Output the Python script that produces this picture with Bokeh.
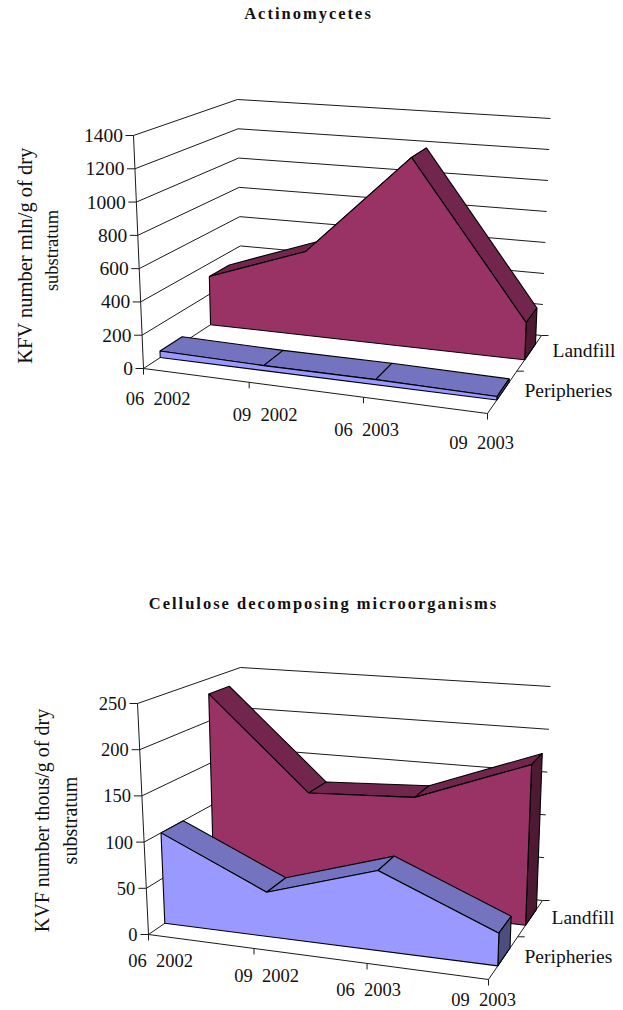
import numpy as np
from bokeh.core.properties import value
from bokeh.embed import file_html
from bokeh.layouts import column
from bokeh.models import InlineStyleSheet
from bokeh.plotting import figure
from bokeh.resources import INLINE

categories = ["06\u00a0\u00a02002", "09\u00a0\u00a02002", "06\u00a0\u00a02003", "09\u00a0\u00a02003"]
series_names = ["Peripheries", "Landfill"]

actino_title = "Actinomycetes"
actino_ylabel = ["KFV number mln/g of dry", "substratum"]
actino_ticks = [0, 200, 400, 600, 800, 1000, 1200, 1400]
actino_peripheries = [40, 30, 30, 20]
actino_landfill = [315, 540, 1195, 230]

cellulose_title = "Cellulose decomposing microorganisms"
cellulose_ylabel = ["KVF number thous/g of dry", "substratum"]
cellulose_ticks = [0, 50, 100, 150, 200, 250]
cellulose_peripheries = [100, 48, 85, 34]
cellulose_landfill = [232, 125, 131, 179]

FONT = value("Liberation Serif")
INK = "#1a1a1a"
FILLS = {
    "Peripheries": ("#9999ff", "#7373bf", "#4d4d80"),
    "Landfill": ("#993366", "#73264d", "#4d1933"),
}
# Depth bands occupied by each series inside the unit floor.
BANDS = {"Peripheries": (0.15, 0.36), "Landfill": (0.65, 0.87)}


def homography(quad):
    """Map the unit square (u, d) on to a pixel quadrilateral FL, FR, BR, BL."""
    src = [(0, 0), (1, 0), (1, 1), (0, 1)]
    a, b = [], []
    for (u, d), (x, y) in zip(src, quad):
        a.append([u, d, 1, 0, 0, 0, -u * x, -d * x])
        a.append([0, 0, 0, u, d, 1, -u * y, -d * y])
        b += [x, y]
    h = np.linalg.solve(np.array(a, float), np.array(b, float))
    return np.append(h, 1).reshape(3, 3)


class Box:
    def __init__(self, floor, ceiling, vmax):
        self.floor = homography(floor)
        self.ceiling = homography(ceiling)
        self.vmax = vmax

    def __call__(self, u, d, v):
        q = np.array([u, d, 1.0])
        f = self.floor @ q
        c = self.ceiling @ q
        f, c = f[:2] / f[2], c[:2] / c[2]
        return tuple(f + (c - f) * (v / self.vmax))


def band_figure(y0, y1, css=None):
    """A full-width figure whose data coordinates run with the page's pixels."""
    fig = figure(width=623, height=y1 - y0, x_range=(0, 623), y_range=(y1, y0),
                 output_backend="svg", toolbar_location=None, min_border=0,
                 outline_line_color=None)
    fig.axis.visible = False
    fig.grid.visible = False
    if css:
        fig.stylesheets = [InlineStyleSheet(css=css)]
    return fig


def seg(fig, a, b, color=INK, width=1.0):
    fig.line([a[0], b[0]], [a[1], b[1]], line_color=color, line_width=width)


def face(fig, points, fill):
    xs, ys = zip(*points)
    fig.patch(list(xs), list(ys), fill_color=fill, line_color="#000000", line_width=1.1)


def label(fig, x, y, text, size=18.5, align="center", angle=0.0, bold=False):
    fig.text([x], [y], text=[text], text_font=FONT, text_font_size=f"{size}px",
             text_align=align, text_baseline="middle", angle=angle,
             text_color="#111111", text_font_style="bold" if bold else "normal")


def draw_series(fig, box, name, values):
    front, top, side = FILLS[name]
    d0, d1 = BANDS[name]
    us = np.linspace(0, 1, len(values))
    for i in range(len(values) - 1):
        face(fig, [box(us[i], d0, values[i]), box(us[i + 1], d0, values[i + 1]),
                   box(us[i + 1], d1, values[i + 1]), box(us[i], d1, values[i])], top)
    face(fig, [box(1, d0, 0), box(1, d1, 0), box(1, d1, values[-1]), box(1, d0, values[-1])], side)
    outline = [box(u, d0, v) for u, v in zip(us, values)]
    face(fig, outline + [box(1, d0, 0), box(0, d0, 0)], front)


def draw_chart(fig, box, ticks, peripheries, landfill, ylabel, ylabel_x, ylabel_y, ylabel_size,
               cat_xy, series_xy, tick_size, tick_gap):
    # walls and floor
    for t in ticks:
        seg(fig, box(0, 1, t), box(1, 1, t))
        seg(fig, box(0, 0, t), box(0, 1, t))
        a = box(0, 0, t)
        seg(fig, a, (a[0] - 8, a[1]))
    seg(fig, box(0, 0, 0), box(0, 0, ticks[-1]))
    seg(fig, box(0, 0, 0), box(1, 0, 0))
    seg(fig, box(1, 0, 0), box(1, 1, 0))
    for i, (x, y) in enumerate(cat_xy):
        a = box(i / (len(categories) - 1), 0, 0)
        seg(fig, a, (a[0], a[1] + 6))
        label(fig, x, y, categories[i])
    for d in (0.5, 1.0):
        a = box(1, d, 0)
        seg(fig, a, (a[0] + 7, a[1]))

    draw_series(fig, box, "Landfill", landfill)
    draw_series(fig, box, "Peripheries", peripheries)

    for t in ticks:
        a = box(0, 0, t)
        label(fig, a[0] - tick_gap, a[1], str(t), size=tick_size, align="right")
    for name, (x, y) in zip(series_names, series_xy):
        label(fig, x, y, name, size=19.5, align="left")
    for x, y, text, size in zip(ylabel_x, ylabel_y, ylabel, ylabel_size):
        label(fig, x, y, text, size=size, angle=np.pi / 2)


TITLE_CSS = ":host { letter-spacing: 2px; }"

title_a = band_figure(0, 30, TITLE_CSS)
label(title_a, 295, 13, actino_title, size=16.5, bold=True)

chart_a = band_figure(30, 590)
actino_box = Box([(143, 368), (487, 413), (541, 335), (241, 304)],
                 [(133, 135), (495, 166), (550, 118), (237, 99)], actino_ticks[-1])
draw_chart(chart_a, actino_box, actino_ticks, actino_peripheries, actino_landfill,
           actino_ylabel, (24, 51), (255, 250), (20.5, 18.5),
           [(157.5, 398), (264.5, 414), (366, 429), (481, 442)],
           [(524, 390), (552, 350)], 19.5, 10.5)

title_b = band_figure(590, 620, TITLE_CSS)
label(title_b, 287, 603, cellulose_title, size=16.5, bold=True)

chart_b = band_figure(620, 1010)
cellulose_box = Box([(148, 934), (488, 979), (542, 900), (244, 868)],
                    [(137, 703), (496, 733), (550, 686), (240, 667)], cellulose_ticks[-1])
draw_chart(chart_b, cellulose_box, cellulose_ticks, cellulose_peripheries, cellulose_landfill,
           cellulose_ylabel, (41, 69), (820, 820), (20, 20),
           [(160, 960), (266, 975), (368, 989), (483, 999.5)],
           [(524, 956), (551, 917)], 18.5, 11)

page = column(title_a, chart_a, title_b, chart_b, spacing=0)
open("out.html", "w").write(file_html(page, INLINE))
